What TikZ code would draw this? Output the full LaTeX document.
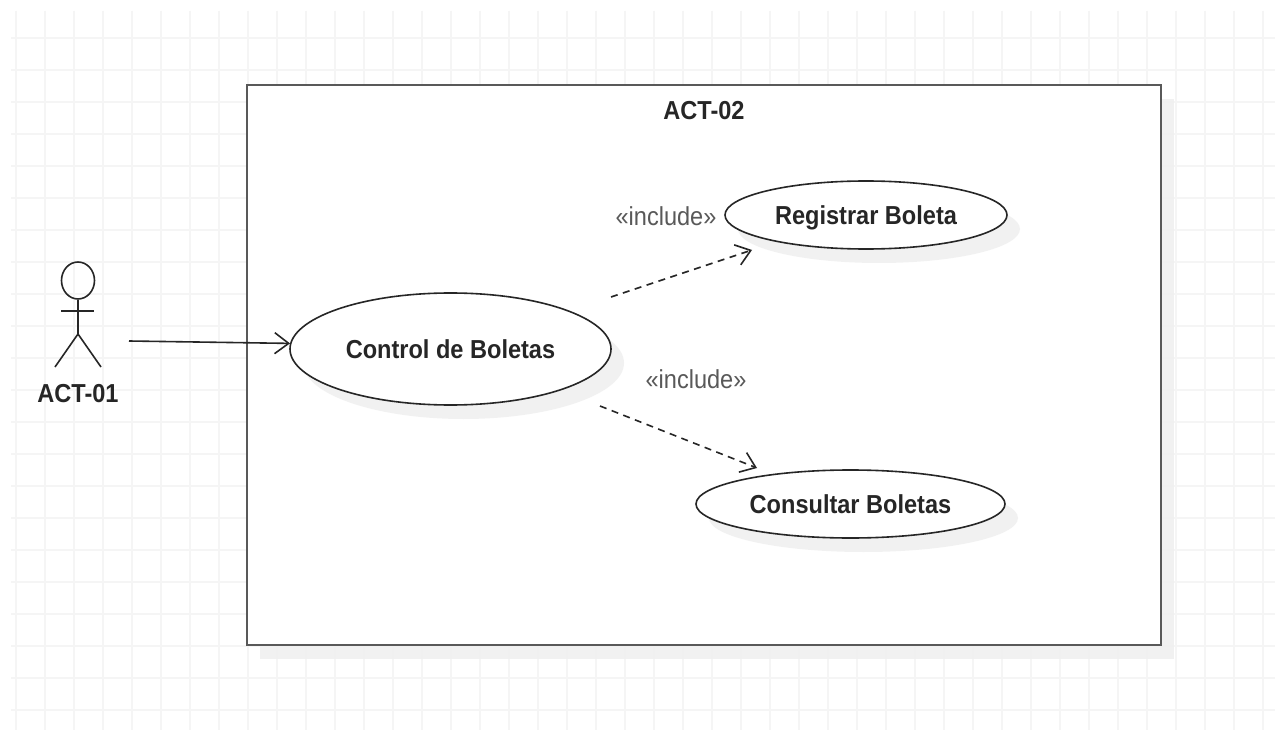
\documentclass[tikz,border=0pt]{standalone}
\usepackage{fontspec}
\setmainfont{Liberation Sans}[FakeStretch=0.906]
\usetikzlibrary{shapes.geometric,shadows,arrows.meta}
\tikzset{
	gridline/.style={draw=black!4,line width=2pt},
	umlshadow/.style={general shadow={fill=black!6,fill opacity=0.9,shadow xshift=13pt,shadow yshift=-14pt}},
	usecase/.style={ellipse,draw=black!85,line width=1.6pt,fill=white,inner sep=0pt,umlshadow,text height=18.6pt,text depth=0pt,font=\fontsize{26}{30}\selectfont\bfseries,text=black!85},
	limit/.style={rectangle,draw=black!65,line width=2.6pt,fill=white,inner sep=0pt,minimum width=914pt,minimum height=560pt,umlshadow},
	caption/.style={font=\fontsize{26}{30}\selectfont\bfseries,text=black!85},
	stereo/.style={font=\fontsize{26}{30}\selectfont,text=black!65},
	stick/.style={draw=black!85,line width=1.6pt},
	opentip/.style={>={Straight Barb[length=14pt,width=21pt,line width=1.6pt]}}
}
\begin{document}
\begin{tikzpicture}[x=1pt,y=-1pt]
	\useasboundingbox[fill=white] (0,0) rectangle (1275,730);
	% background grid
	\foreach \x in {0,...,43}
	\draw[gridline] (15.5+29*\x,11) -- (15.5+29*\x,730);
	\foreach \y in {0,...,21}
	\draw[gridline] (11,38+32*\y) -- (1275,38+32*\y);
	% system boundary
	\node[limit] (system) at (704,365) {};
	\node[caption] (systemname) at (704,111) {ACT-02};
	% use cases
	\node[usecase,minimum width=321pt,minimum height=112pt] (control) at (450.5,349) {Control de Boletas};
	\node[usecase,minimum width=282pt,minimum height=68pt] (registrar) at (866,215) {Registrar Boleta};
	\node[usecase,minimum width=309pt,minimum height=68pt] (consultar) at (850.5,504) {Consultar Boletas};
	% actor
	\node[ellipse,stick,inner sep=0pt,minimum width=33pt,minimum height=37pt] (head) at (78,280.5) {};
	\coordinate (hip) at (78,334);
	\coordinate (armleft) at (61,311);
	\coordinate (armright) at (94,311);
	\coordinate (footleft) at (55,367);
	\coordinate (footright) at (101,367);
	\draw[stick] (head.south) -- (hip);
	\draw[stick] (armleft) -- (armright);
	\draw[stick] (footleft) -- (hip) -- (footright);
	\node[caption] (actorname) at (78,394) {ACT-01};
	% connectors
	\coordinate (actorhand) at (129,341);
	\coordinate (fromtop) at (611,297);
	\coordinate (totop) at (752,250);
	\coordinate (frombottom) at (600,406);
	\coordinate (tobottom) at (757,468);
	\draw[stick,opentip,->] (actorhand) -- (control.178.7);
	\draw[stick,opentip,dash pattern=on 7pt off 5.5pt,->] (fromtop) -- (totop);
	\draw[stick,opentip,dash pattern=on 7pt off 5.5pt,->] (frombottom) -- (tobottom);
	\node[stereo] (includetop) at (666,216) {«include»};
	\node[stereo] (includebottom) at (696,379) {«include»};
\end{tikzpicture}
\end{document}
